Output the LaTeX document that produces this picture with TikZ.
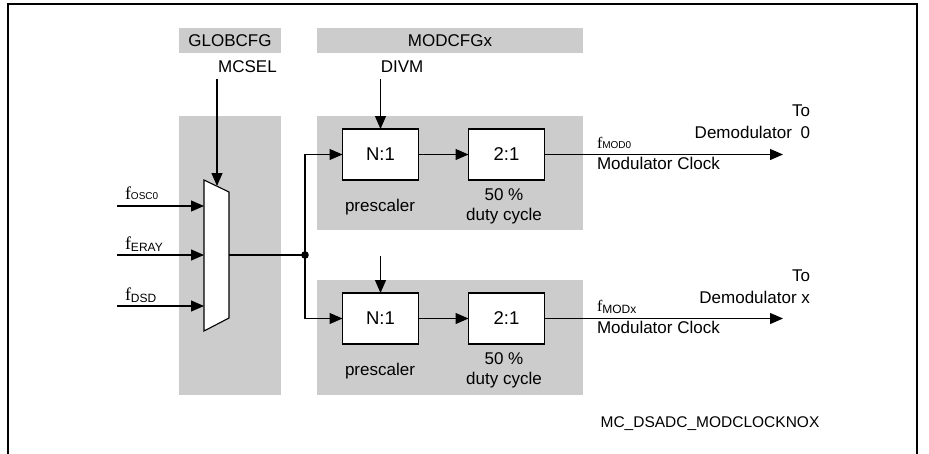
\documentclass[tikz,border=0pt]{standalone}
\usepackage{fontspec}
\setmainfont{Liberation Sans}
\newfontfamily\timesf{Liberation Serif}
\usepackage{tikz}
\usetikzlibrary{positioning,arrows.meta,calc}
\usepackage{xcolor}
\definecolor{cfggray}{RGB}{204,204,204}
\newcommand{\fsub}[2][18]{{\fontsize{#1}{#1}\timesf f}\raisebox{-2pt}{\fontsize{12}{12}\selectfont #2}}
\newcommand{\fsc}[2][18]{{\fontsize{#1}{#1}\timesf f}{\fontsize{10}{10}\selectfont #2}}

\begin{document}
\begin{tikzpicture}[x=1pt,y=-1pt,>={Triangle[length=13pt,width=11pt]},
  every node/.style={inner sep=0pt,outer sep=0pt},
  font=\fontsize{17}{22}\selectfont,
  wire/.style={line width=1.1pt},
  field/.style={fill=cfggray,minimum height=25pt},
  divider/.style={draw,line width=1.1pt,fill=white,minimum width=76pt,minimum height=51pt,font=\fontsize{18.5}{20}\selectfont}]
\useasboundingbox (0,0) rectangle (929,453);
\draw[line width=1.3pt] (8,460) -- (8,4) -- (917,4) -- (917,460);

% shaded areas
\fill[cfggray] (179,116) rectangle (281,395);
\fill[cfggray] (317,116) rectangle (583,230);
\fill[cfggray] (317,280) rectangle (583,395);

% register fields
\node[field,minimum width=102pt] (globcfg) at (230,40.5) {GLOBCFG};
\node[field,minimum width=266pt] (modcfg) at (450,40.5) {MODCFGx};
\node[anchor=base] (mcsel) at (247.5,72) {MCSEL};
\node[anchor=base] (divm) at (402,72) {DIVM};

% clock multiplexer
\draw[wire,fill=white] (204,180) -- (229,192) -- (229,318) -- (204,331) -- cycle;
\coordinate (sel) at (217,186);
\coordinate (in0) at (204,206);
\coordinate (in1) at (204,255);
\coordinate (in2) at (204,306);
\coordinate (muxout) at (229,255);
\coordinate (src0) at (117,206);
\coordinate (src1) at (117,255);
\coordinate (src2) at (117,306);
\node[anchor=base west] (fosc) at (125,199) {\fsc{OSC0}};
\node[anchor=base west] (feray) at (125,249) {\fsub{ERAY}};
\node[anchor=base west] (fdsd) at (125,300) {\fsub{DSD}};
\draw[wire,->] (src0) -- (in0);
\draw[wire,->] (src1) -- (in1);
\draw[wire,->] (src2) -- (in2);
\draw[wire,->] ($(mcsel.south -| sel)+(0,7)$) -- (sel);

% divider chains
\node[divider] (pre0) at (380.5,154.5) {N:1};
\node[divider] (duty0) at (506.5,154.5) {2:1};
\node[divider] (pre1) at (380.5,318.5) {N:1};
\node[divider] (duty1) at (506.5,318.5) {2:1};
\node[anchor=base] (pre0lbl) at (380,211) {prescaler};
\node[anchor=base] (pre1lbl) at (380,375) {prescaler};
\node[anchor=north,align=center,font=\fontsize{17}{20}\selectfont] (duty0lbl) at (504,189) {50 \%\\duty cycle};
\node[anchor=north,align=center,font=\fontsize{17}{20}\selectfont] (duty1lbl) at (504,353) {50 \%\\duty cycle};

\coordinate (split) at (305,255);
\coordinate (divmx) at (380.5,256);
\draw[wire] (muxout) -- (split);
\fill (split) circle[radius=3.8pt];
\draw[wire,->] (split) |- (pre0.west);
\draw[wire,->] (split) |- (pre1.west);
\draw[wire,->] ($(divm.south -| pre0)+(0,7)$) -- (pre0);
\draw[wire,->] (divmx) -- (pre1);
\draw[wire,->] (pre0) -- (duty0);
\draw[wire,->] (pre1) -- (duty1);

% outputs
\coordinate (out0) at (783,154.5);
\coordinate (out1) at (783,318.5);
\draw[wire,->] (duty0) -- (out0);
\draw[wire,->] (duty1) -- (out1);
\node[anchor=base west] (fmod0) at (597,148) {\fsc[16]{MOD0}};
\node[anchor=base west] (clk0) at (597,169) {Modulator Clock};
\node[anchor=base west] (fmodx) at (597,311) {\fsub[16]{MODx}};
\node[anchor=base west] (clk1) at (597,333) {Modulator Clock};
\node[anchor=north east,align=right] (dest0) at (810,105) {To\\Demodulator\hspace{0.5em}0};
\node[anchor=north east,align=right] (dest1) at (810,270) {To\\Demodulator x};

\node[anchor=base,font=\fontsize{15.5}{18}\selectfont] (figid) at (710,427) {MC\_DSADC\_MODCLOCKNOX};
\end{tikzpicture}
\end{document}
